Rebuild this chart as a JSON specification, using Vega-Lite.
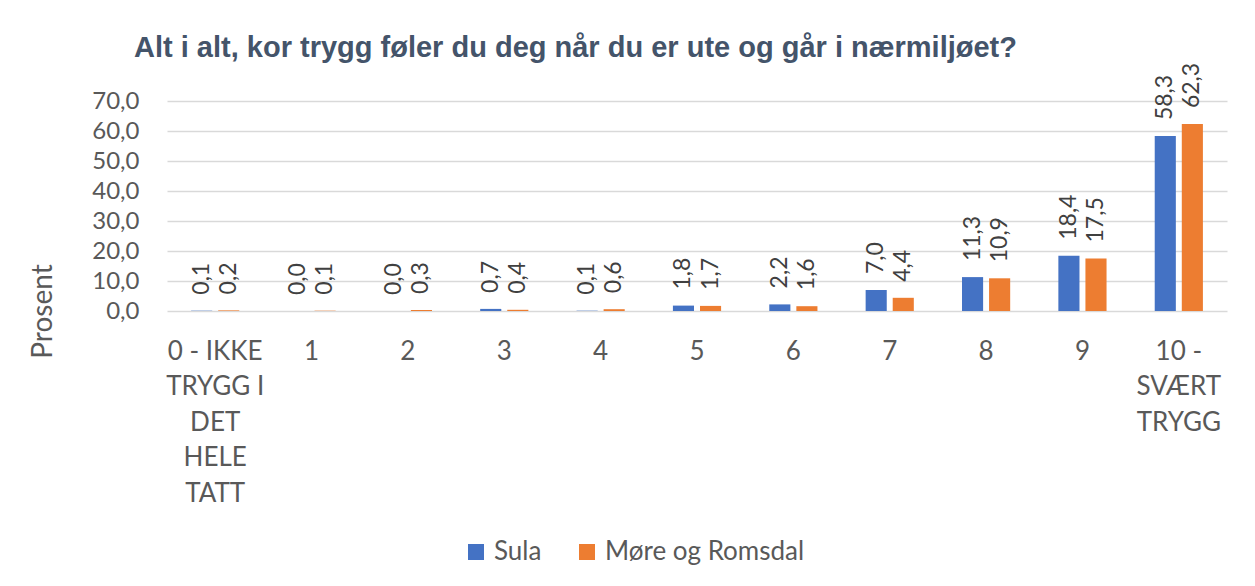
{
  "$schema": "https://vega.github.io/schema/vega-lite/v6.json",
  "width": 1060,
  "height": 210,
  "autosize": {"type": "none"},
  "padding": {"left": 167, "top": 101, "right": 28, "bottom": 275},
  "background": "white",
  "title": {
    "text": "Alt i alt, kor trygg føler du deg når du er ute og går i nærmiljøet?",
    "anchor": "start",
    "frame": "group",
    "dx": -33,
    "offset": 0,
    "font": "Liberation Sans",
    "fontSize": 29,
    "fontWeight": "bold",
    "color": "#44546A"
  },
  "data": {
    "values": [
      {"kategori": "0 - IKKE TRYGG I DET HELE TATT", "serie": "Sula", "prosent": 0.1},
      {"kategori": "0 - IKKE TRYGG I DET HELE TATT", "serie": "Møre  og Romsdal", "prosent": 0.2},
      {"kategori": "1", "serie": "Sula", "prosent": 0.0},
      {"kategori": "1", "serie": "Møre  og Romsdal", "prosent": 0.1},
      {"kategori": "2", "serie": "Sula", "prosent": 0.0},
      {"kategori": "2", "serie": "Møre  og Romsdal", "prosent": 0.3},
      {"kategori": "3", "serie": "Sula", "prosent": 0.7},
      {"kategori": "3", "serie": "Møre  og Romsdal", "prosent": 0.4},
      {"kategori": "4", "serie": "Sula", "prosent": 0.1},
      {"kategori": "4", "serie": "Møre  og Romsdal", "prosent": 0.6},
      {"kategori": "5", "serie": "Sula", "prosent": 1.8},
      {"kategori": "5", "serie": "Møre  og Romsdal", "prosent": 1.7},
      {"kategori": "6", "serie": "Sula", "prosent": 2.2},
      {"kategori": "6", "serie": "Møre  og Romsdal", "prosent": 1.6},
      {"kategori": "7", "serie": "Sula", "prosent": 7.0},
      {"kategori": "7", "serie": "Møre  og Romsdal", "prosent": 4.4},
      {"kategori": "8", "serie": "Sula", "prosent": 11.3},
      {"kategori": "8", "serie": "Møre  og Romsdal", "prosent": 10.9},
      {"kategori": "9", "serie": "Sula", "prosent": 18.4},
      {"kategori": "9", "serie": "Møre  og Romsdal", "prosent": 17.5},
      {"kategori": "10 - SVÆRT TRYGG", "serie": "Sula", "prosent": 58.3},
      {"kategori": "10 - SVÆRT TRYGG", "serie": "Møre  og Romsdal", "prosent": 62.3}
    ]
  },
  "encoding": {
    "x": {
      "field": "kategori",
      "type": "nominal",
      "sort": null,
      "scale": {"paddingInner": 0.5, "paddingOuter": 0.25},
      "axis": {
        "title": null,
        "labelAngle": 0,
        "labelFont": "Lato",
        "labelFontSize": 26,
        "labelColor": "#595959",
        "labelPadding": 27,
        "labelBaseline": "top",
        "labelLineHeight": 35.5,
        "labelLimit": 0,
        "labelOverlap": false,
        "ticks": false,
        "domain": false,
        "labelExpr": "datum.value == '0 - IKKE TRYGG I DET HELE TATT' ? ['0 - IKKE', 'TRYGG I', 'DET', 'HELE', 'TATT'] : datum.value == '10 - SVÆRT TRYGG' ? ['10 -', 'SVÆRT', 'TRYGG'] : datum.value"
      }
    },
    "xOffset": {
      "field": "serie",
      "type": "nominal",
      "sort": ["Sula", "Møre  og Romsdal"],
      "scale": {"paddingInner": 0.22, "paddingOuter": 0}
    },
    "y": {
      "field": "prosent",
      "type": "quantitative",
      "scale": {"domain": [0, 70], "nice": false},
      "axis": {
        "values": [0, 10, 20, 30, 40, 50, 60, 70],
        "format": ".1f",
        "labelFont": "Lato",
        "labelFontSize": 24,
        "labelColor": "#595959",
        "labelPadding": 28,
        "ticks": false,
        "domain": false,
        "gridColor": "#D9D9D9",
        "gridWidth": 1.5,
        "title": "Prosent",
        "titleFont": "Lato",
        "titleFontSize": 28,
        "titleFontWeight": "normal",
        "titleColor": "#595959",
        "titleX": -124,
        "titleY": 210,
        "titleAngle": 270,
        "titleAlign": "center",
        "titleBaseline": "middle"
      }
    }
  },
  "layer": [
    {
      "mark": {"type": "bar"},
      "encoding": {
        "color": {
          "field": "serie",
          "type": "nominal",
          "scale": {"domain": ["Sula", "Møre  og Romsdal"], "range": ["#4472C4", "#ED7D31"]},
          "legend": {
            "orient": "none",
            "legendX": 296,
            "legendY": 438,
            "direction": "horizontal",
            "title": null,
            "symbolType": "square",
            "symbolSize": 256,
            "symbolStrokeWidth": 0,
            "labelFont": "Lato",
            "labelFontSize": 26,
            "labelColor": "#595959",
            "labelLimit": 0,
            "labelOffset": 5,
            "columnPadding": 32,
            "padding": 0
          }
        }
      }
    },
    {
      "mark": {
        "type": "text",
        "angle": 270,
        "align": "left",
        "baseline": "middle",
        "dx": 16,
        "font": "Lato",
        "fontSize": 23,
        "color": "#404040"
      },
      "encoding": {
        "text": {"field": "prosent", "type": "quantitative", "format": ".1f"}
      }
    }
  ],
  "config": {
    "locale": {"number": {"decimal": ",", "thousands": " ", "grouping": [3], "currency": ["", " kr"]}},
    "view": {"stroke": null}
  }
}
